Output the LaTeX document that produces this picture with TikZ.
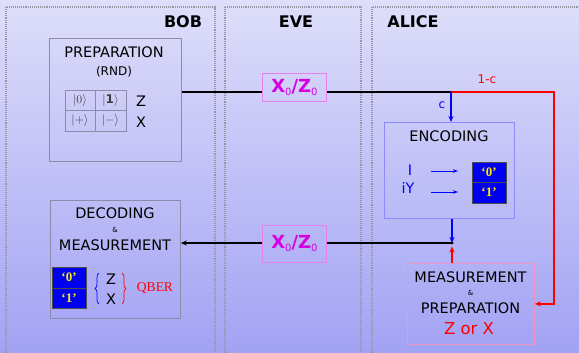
\documentclass[tikz,border=0pt]{standalone}
\usepackage{fontspec}
\setmainfont{DejaVu Sans}
\newfontfamily\serifbits{Liberation Serif}
\usetikzlibrary{arrows.meta,decorations.pathreplacing}
\definecolor{bgtop}{RGB}{222,222,250}
\definecolor{bgbot}{RGB}{162,162,244}
\definecolor{panelc}{RGB}{150,150,165}
\definecolor{mag}{RGB}{214,0,224}
\definecolor{magb}{RGB}{228,128,240}
\definecolor{encb}{RGB}{140,140,255}
\definecolor{measb}{RGB}{236,150,200}
\definecolor{grayb}{RGB}{140,140,170}
\definecolor{bitblue}{RGB}{0,0,240}
\definecolor{ketc}{RGB}{60,60,60}
\definecolor{bityel}{RGB}{255,240,0}
\begin{document}
\begin{tikzpicture}[x=1pt,y=-1pt,
  panel/.style={draw=panelc,densely dotted,line width=1.1pt},
  boxc/.style={draw,line width=0.8pt,anchor=north west,inner sep=0pt},
  txt/.style={inner sep=0pt,font=\fontsize{14.5}{16}\selectfont},
  amp/.style={inner sep=0pt,font=\fontsize{7}{8}\selectfont},
  ttl/.style={inner sep=0pt,font=\fontsize{16}{18}\selectfont\bfseries},
  xz/.style={boxc,draw=magb,text=mag,minimum width=64pt,font=\fontsize{18}{19}\selectfont},
  bit/.style={draw=black!70,fill=bitblue,text=bityel,minimum width=34pt,minimum height=20.5pt,inner sep=0pt,font=\fontsize{13}{14}\selectfont\serifbits\bfseries},
  ket/.style={inner sep=0pt,text=ketc,font=\fontsize{12}{13}\selectfont},
  blk/.style={line width=1.2pt,-{Stealth[length=6pt,width=5pt]}},
  sarr/.style={blue,line width=0.9pt,-{Stealth[length=5pt,width=3.5pt]}}]
\useasboundingbox (0,0) rectangle (579,353);
\shade[top color=bgtop,bottom color=bgbot] (0,0) rectangle (579,353);
\begin{scope}
\clip (0,0) rectangle (579,353);
\draw[panel] (6,7) rectangle (215,370);
\draw[panel] (225,7) rectangle (361,370);
\draw[panel] (372,7) rectangle (600,370);
\end{scope}
% titles
\node[ttl] (tbob) at (183,22) {BOB};
\node[ttl] (teve) at (296,22) {EVE};
\node[ttl] (talice) at (413,22) {ALICE};
% preparation box
\node[boxc,draw=grayb,minimum width=132pt,minimum height=123pt] (prep) at (49,38) {};
\node[txt] (preptitle) at (114,52) {PREPARATION};
\node[inner sep=0pt,font=\fontsize{12}{13}\selectfont] (rnd) at (114,72) {(RND)};
\draw[grayb,line width=0.6pt] (65,90) rectangle (126,131) (95,90) -- (95,131) (65,110.5) -- (126,110.5);
\node[ket] (k0) at (80,100.5) {$|0\rangle$};
\node[ket] (k1) at (110.5,100.5) {$|\mathbf{1}\rangle$};
\node[ket] (kp) at (80,121) {$|{+}\rangle$};
\node[ket] (km) at (110.5,121) {$|{-}\rangle$};
\node[txt] (pz) at (141,101) {Z};
\node[txt] (px) at (141,122) {X};
% eve boxes
\node[xz,minimum height=28pt] (xz1) at (262,73) {\textbf{X}{\fontsize{10}{10}\selectfont\raisebox{-3pt}{0}}\textbf{/Z}{\fontsize{10}{10}\selectfont\raisebox{-3pt}{0}}};
\node[xz,minimum height=37pt] (xz2) at (262,225) {\textbf{X}{\fontsize{10}{10}\selectfont\raisebox{-3pt}{0}}\textbf{/Z}{\fontsize{10}{10}\selectfont\raisebox{-3pt}{0}}};
% encoding
\node[boxc,draw=encb,minimum width=130pt,minimum height=96pt] (enc) at (384,122) {};
\node[txt] (enct) at (449,136) {ENCODING};
\node[txt,text=blue] (iI) at (410,170) {I};
\node[txt,text=blue] (iY) at (408,188) {iY};
\node[bit] (e0) at (489,172) {‘0’};
\node[bit] (e1) at (489,192.5) {‘1’};
\coordinate (a1s) at (431,171);
\coordinate (a1e) at (458,171);
\coordinate (a2s) at (431,192);
\coordinate (a2e) at (458,192);
\draw[sarr] (a1s) -- (a1e);
\draw[sarr] (a2s) -- (a2e);
% measurement & preparation
\node[boxc,draw=measb,minimum width=127pt,minimum height=81pt] (meas) at (407,263) {};
\node[txt] (mt1) at (470.5,277) {MEASUREMENT};
\node[amp] (mt2) at (470.5,293) {\&};
\node[txt] (mt3) at (470.5,308) {PREPARATION};
\node[inner sep=0pt,text=red,font=\fontsize{16.5}{18}\selectfont] (zox) at (469,329) {Z or X};
% decoding
\node[boxc,draw=grayb,minimum width=130pt,minimum height=118pt] (dec) at (50,200) {};
\node[txt] (dt1) at (115,213.5) {DECODING};
\node[amp] (dt2) at (115,230) {\&};
\node[txt] (dt3) at (115,245.5) {MEASUREMENT};
\node[bit] (d0) at (69,277.5) {‘0’};
\node[bit] (d1) at (69,298) {‘1’};
\node[txt] (dz) at (111,279) {Z};
\node[txt] (dx) at (111,299.5) {X};
\draw[blue,line width=0.7pt,decorate,decoration={brace,amplitude=4pt}] (99,304) -- (99,273);
\draw[red,line width=0.7pt,decorate,decoration={brace,amplitude=4pt}] (122,273) -- (122,304);
\node[inner sep=0pt,text=red,font=\fontsize{13.5}{14}\selectfont\serifbits] (qber) at (155,288.5) {QBER};
% connectors
\coordinate (j1) at (451,92);
\coordinate (j2) at (452,243);
\coordinate (rc) at (554,92);
\draw[line width=1.2pt] (prep.east |- j1) -- (xz1.west |- j1);
\draw[line width=1.2pt] (xz1.east |- j1) -- (j1);
\draw[red,line width=1.4pt,-{Stealth[length=6pt,width=5pt]}] (j1) -- (rc) -- (rc |- meas.east) -- (meas.east);
\node[inner sep=0pt,text=red,font=\fontsize{12}{13}\selectfont] (lc1) at (487,79) {1-c};
\draw[blue,line width=1.2pt,-{Stealth[length=6pt,width=5pt]}] (j1) -- (j1 |- enc.north);
\node[inner sep=0pt,text=blue,font=\fontsize{12}{13}\selectfont] (lc) at (442,105) {c};
\draw[blue,line width=1.2pt,-{Stealth[length=6pt,width=5pt]}] (enc.south -| j2) -- (j2);
\draw[red,line width=1.2pt,-{Stealth[length=6pt,width=5pt]},shorten >=3.5pt] (meas.north -| j2) -- (j2);
\draw[line width=1.2pt] (j2) -- (xz2.east |- j2);
\draw[blk] (xz2.west |- j2) -- (dec.east |- j2);
\fill (j2) circle (1.6pt);
\end{tikzpicture}
\end{document}
